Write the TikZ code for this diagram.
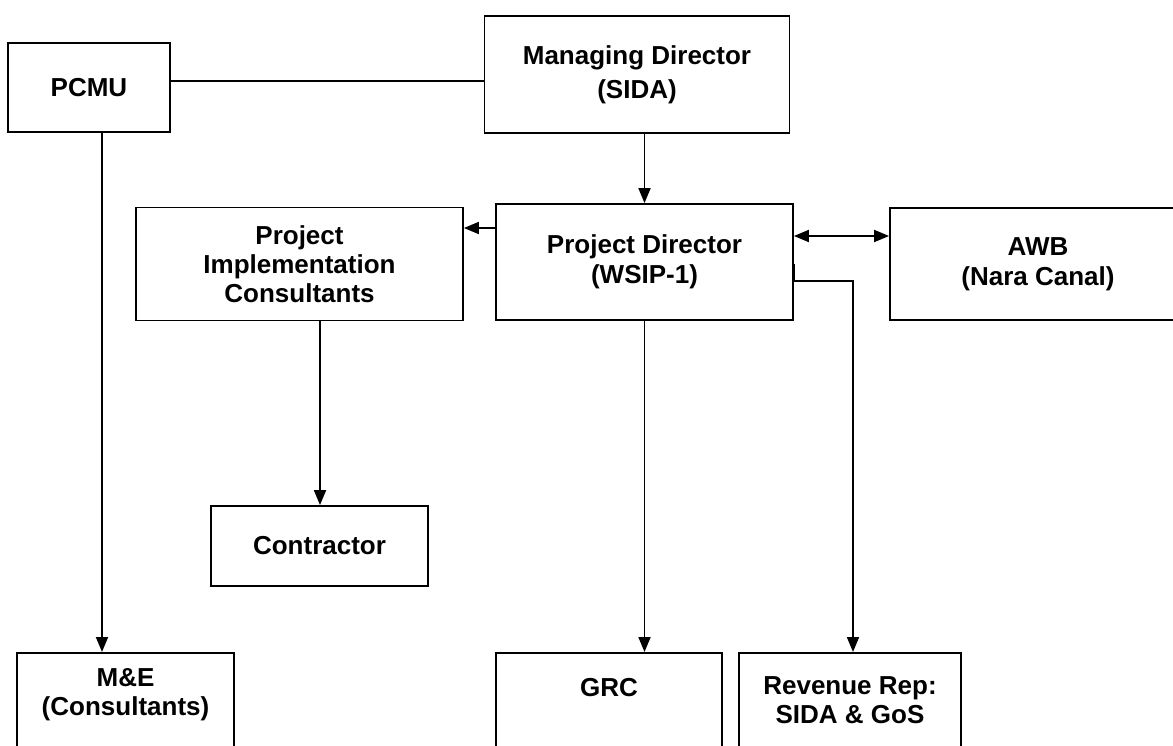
\documentclass[tikz,border=0pt]{standalone}
\usepackage{fontspec}
\setmainfont{Liberation Sans}
\usetikzlibrary{arrows.meta}
\begin{document}
\begin{tikzpicture}[x=1pt,y=-1pt,
  box/.style={draw,line width=1.8pt,rectangle,inner sep=0pt,align=center,font=\fontsize{26}{30}\selectfont\bfseries},
  lbl/.style={align=center,inner sep=0pt,font=\fontsize{26}{29}\selectfont\bfseries},
  arr/.style={line width=1.8pt,-{Triangle[length=15pt,width=12pt]}},
  dblarr/.style={line width=1.8pt,{Triangle[length=15pt,width=12pt]}-{Triangle[length=15pt,width=12pt]}},
  link/.style={line width=1.8pt}]
\useasboundingbox (0,0) rectangle (1173,746);
\clip (0,0) rectangle (1173,746);
% boxes
\node[box,minimum width=162pt,minimum height=89pt] (pcmu) at (89,87.5) {PCMU};
\node[box,minimum width=305pt,minimum height=117pt,font=\fontsize{26}{34}\selectfont\bfseries] (md) at (637,74.5) {Managing Director\\(SIDA)};
\node[box,minimum width=327pt,minimum height=113pt,font=\fontsize{26}{29}\selectfont\bfseries] (pic) at (299.5,264) {Project\\Implementation\\Consultants};
\node[box,minimum width=297pt,minimum height=116pt] (pd) at (644.5,262) {Project Director\\(WSIP-1)};
\node[box,minimum width=296pt,minimum height=112pt] (awb) at (1038,264) {AWB\\(Nara Canal)};
\node[box,minimum width=217pt,minimum height=80pt] (con) at (319.5,546) {Contractor};
% bottom boxes (cut by the page edge)
\node[box,minimum width=217pt,minimum height=130pt,anchor=north] (me) at (125.5,652) {};
\node[lbl] (metxt) at (125.5,695) {M\&E\\(Consultants)};
\node[box,minimum width=226pt,minimum height=130pt,anchor=north] (grc) at (609,652) {};
\node[lbl] (grctxt) at (609,688) {GRC};
\node[box,minimum width=222pt,minimum height=130pt,anchor=north] (rev) at (850,652) {};
\node[lbl] (revtxt) at (850,700) {Revenue Rep:\\SIDA \& GoS};
% connectors
\draw[link] ([yshift=6.5pt]pcmu.east) -- ([yshift=6.5pt]pcmu.east -| md.west);
\draw[arr] (md.south -| pd.north) -- (pd.north);
\draw[arr] ([yshift=34pt]pd.west) -- ([yshift=34pt]pd.west -| pic.east);
\draw[dblarr] ([yshift=26pt]pd.east) -- ([yshift=26pt]pd.east -| awb.west);
\draw[arr] ([yshift=-2pt]pd.east) -- ([yshift=-19pt]pd.east) -| ([xshift=3pt]rev.north);
\draw[arr] (pd.south) -- (pd.south |- grc.north);
\draw[arr] ([xshift=20.5pt]pic.south) -- ([xshift=20.5pt]pic.south |- con.north);
\draw[arr] ([xshift=13pt]pcmu.south) -- ([xshift=13pt]pcmu.south |- me.north);
\end{tikzpicture}
\end{document}
